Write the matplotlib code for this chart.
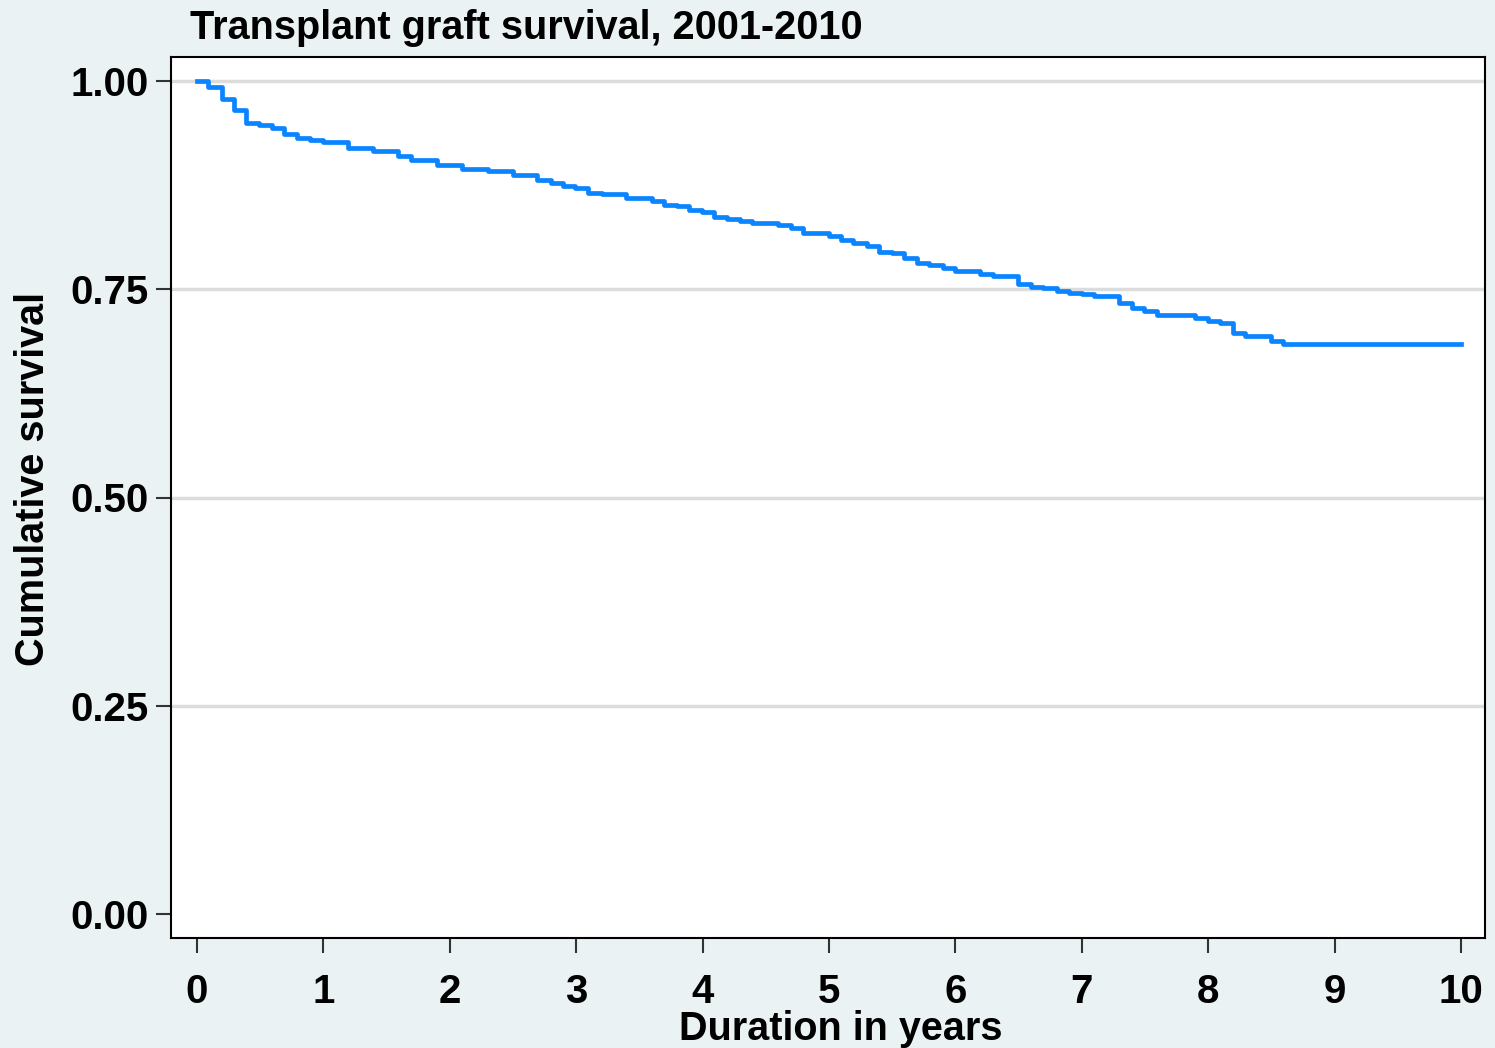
import numpy as np
import matplotlib.pyplot as plt

# Kaplan-Meier step values
times = [0.0, 0.089, 0.195, 0.295, 0.388, 0.491, 0.591, 0.691, 0.789, 0.894, 0.994,
         1.192, 1.390, 1.593, 1.693, 1.896, 2.094, 2.305, 2.498, 2.692, 2.798,
         2.898, 2.991, 3.096, 3.202, 3.394, 3.597, 3.697, 3.795, 3.895, 3.993,
         4.093, 4.191, 4.296, 4.388, 4.494, 4.594, 4.699, 4.797, 4.903, 5.002,
         5.095, 5.192, 5.298, 5.398, 5.496, 5.596, 5.694, 5.793, 5.900, 5.997,
         6.195, 6.295, 6.498, 6.596, 6.695, 6.801, 6.901, 6.999, 7.099, 7.297,
         7.395, 7.494, 7.592, 7.896, 7.996, 8.093, 8.199, 8.291, 8.494, 8.592, 10.0]
survival = [1.000, 0.993, 0.978, 0.965, 0.950, 0.947, 0.944, 0.936, 0.931, 0.929, 0.927,
            0.920, 0.916, 0.910, 0.905, 0.899, 0.894, 0.892, 0.887, 0.881, 0.877,
            0.874, 0.872, 0.866, 0.864, 0.859, 0.856, 0.851, 0.850, 0.845, 0.843,
            0.837, 0.834, 0.832, 0.830, 0.829, 0.827, 0.823, 0.818, 0.817, 0.814,
            0.809, 0.805, 0.802, 0.795, 0.794, 0.788, 0.782, 0.779, 0.775, 0.772,
            0.768, 0.766, 0.756, 0.753, 0.751, 0.748, 0.746, 0.744, 0.742, 0.733,
            0.728, 0.724, 0.719, 0.716, 0.712, 0.709, 0.697, 0.694, 0.688, 0.684, 0.684]

x_ticks = [0, 1, 2, 3, 4, 5, 6, 7, 8, 9, 10]
y_ticks = [0.0, 0.25, 0.5, 0.75, 1.0]

title = "Transplant graft survival, 2001-2010"
xlabel = "Duration in years"
ylabel = "Cumulative survival"

plt.rcParams['font.family'] = ['Liberation Sans', 'DejaVu Sans']
plt.rcParams['font.weight'] = 'bold'

bg = '#eaf2f3'
fig = plt.figure(figsize=(14.95, 10.48), dpi=100, facecolor=bg)
ax = fig.add_axes([171/1495, 110/1048, (1485-171)/1495, (938-57)/1048])
ax.set_facecolor('white')

ax.step(times, survival, where='post', color='#0a84ff', lw=3.4, zorder=3)

ax.set_xlim(-0.206, 10.19)
ax.set_ylim(-0.0288, 1.0288)
ax.set_xticks(x_ticks)
ax.set_yticks(y_ticks)
ax.set_yticklabels(["%.2f" % v for v in y_ticks])
ax.tick_params(axis='both', direction='out', length=11, width=1.5, color='#333333',
               labelsize=29)
ax.tick_params(axis='x', pad=14)
ax.tick_params(axis='y', pad=5)

ax.grid(axis='y', color='#dcdcdc', lw=2.5, zorder=0)
ax.yaxis.get_gridlines()[0].set_visible(False)
ax.set_axisbelow(True)

for s in ax.spines.values():
    s.set_linewidth(1.5)
    s.set_color('black')

fig.text(190/1495, 1 - 39/1048, title, fontsize=28.5, fontweight='bold', ha='left', va='baseline')
fig.text(841/1495, 1 - 1040/1048, xlabel, fontsize=28.5, fontweight='bold', ha='center', va='baseline')
fig.text(52/1495, 1 - 479/1048, ylabel, fontsize=28.5, fontweight='bold', ha='right', va='center',
         rotation=90)

fig.savefig('out.png', dpi=100, facecolor=bg)
